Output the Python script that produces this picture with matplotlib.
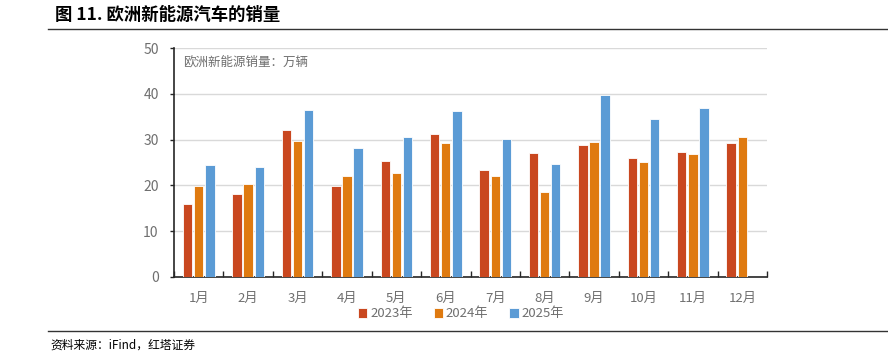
import matplotlib
matplotlib.use("Agg")
import matplotlib.pyplot as plt
import numpy as np
from matplotlib.lines import Line2D

plt.rcParams['font.family'] = ['Noto Sans CJK SC', 'DejaVu Sans']

months = ["1月", "2月", "3月", "4月", "5月", "6月", "7月", "8月", "9月", "10月", "11月", "12月"]
s2023 = [15.9, 18.2, 32.2, 19.8, 25.3, 31.2, 23.4, 27.0, 28.8, 26.0, 27.4, 29.3]
s2024 = [19.9, 20.2, 29.6, 22.0, 22.6, 29.3, 22.0, 18.5, 29.5, 25.2, 26.8, 30.6]
s2025 = [24.4, 24.0, 36.5, 28.2, 30.5, 36.2, 30.1, 24.6, 39.8, 34.5, 37.0]
series_names = ["2023年", "2024年", "2025年"]
colors = ["#C9471F", "#DF7A10", "#5B9BD5"]
yticks = [0, 10, 20, 30, 40, 50]

fig = plt.figure(figsize=(8.88, 3.56), dpi=100)
ax = fig.add_axes([174/888, 1-276.7/356, (767-174)/888, (276.7-48.3)/356])

x = np.arange(len(months))
w = 0.19
step = 0.225
for i, (vals, c, n) in enumerate(zip([s2023, s2024, s2025], colors, series_names)):
    xi = x[:len(vals)] + (i-1)*step
    ax.bar(xi, vals, width=w, color=c, edgecolor='white', linewidth=0.6, label=n, zorder=3)

tick_color = '#6f6f6f'
ax.set_xlim(-0.5, len(months)-0.5)
ax.set_ylim(0, 50)
ax.set_yticks(yticks)
ax.set_yticklabels([str(v) for v in yticks], color=tick_color, fontsize=10)
ax.yaxis.grid(True, color='#D9D9D9', linewidth=1, zorder=0)
ax.set_xticks(x)
ax.set_xticklabels(months, color=tick_color, fontsize=9.5)
ax.tick_params(axis='x', length=0, pad=11)
ax.set_xticks(np.arange(-0.5, len(months)), minor=True)
ax.tick_params(axis='x', which='minor', direction='in', length=4, width=1, color='#262626')
ax.tick_params(axis='y', length=3, width=1, color='#262626', pad=8)
for s in ['top', 'right']:
    ax.spines[s].set_visible(False)
ax.spines['left'].set_color('#262626')
ax.spines['bottom'].set_color('#262626')
ax.spines['left'].set_linewidth(1.2)
ax.spines['bottom'].set_linewidth(1.2)

fig.text(183/888, 1-62/356, "欧洲新能源销量：万辆", fontsize=9, color=tick_color,
         va='center', ha='left')

fig.legend(loc='center', bbox_to_anchor=(461/888, 1-314/356), ncol=3, frameon=False,
           fontsize=9.5, handlelength=0.7, handleheight=0.7, handletextpad=0.2,
           columnspacing=1.6, labelcolor=tick_color)

fig.text(55/888, 1-15/356, "图 11. 欧洲新能源汽车的销量", fontsize=12.5, fontweight='bold',
         va='center', ha='left', color='black')
fig.add_artist(Line2D([48/888, 1], [1-29/356, 1-29/356], color='#333333', linewidth=1))
fig.add_artist(Line2D([48/888, 1], [1-331/356, 1-331/356], color='#333333', linewidth=1))
fig.text(50/888, 1-345/356, "资料来源：iFind，红塔证券", fontsize=8.5, va='center', ha='left', color='black')

fig.savefig("out.png", dpi=100)
